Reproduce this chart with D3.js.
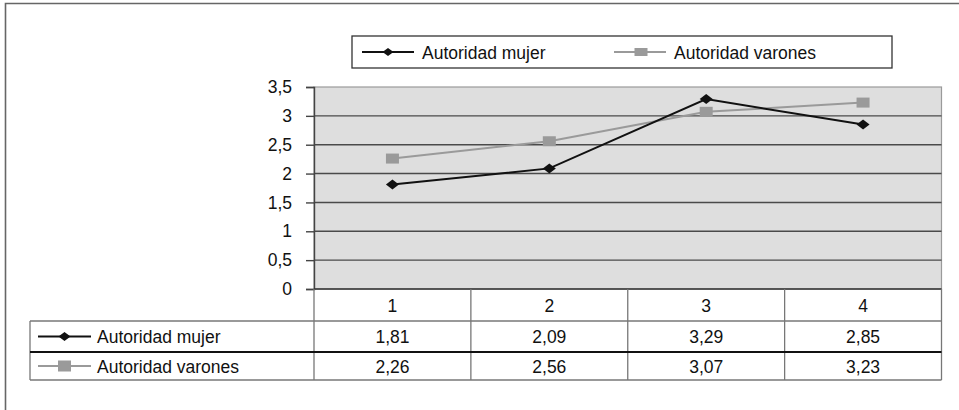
<!DOCTYPE html>
<html>
<head>
<meta charset="utf-8">
<script src="https://d3js.org/d3.v7.min.js"></script>
<style>
    body { margin: 0; background: #fff; }
    svg text { font-family: "Liberation Sans", Arial, sans-serif; font-size: 17.5px; fill: #111; }
</style>
</head>
<body>
<svg class="target" width="959" height="410"></svg>
<script>

    // data
    let categories = [1, 2, 3, 4];
    let seriesNames = ["Autoridad mujer", "Autoridad varones"];
    let mujer = [1.81, 2.09, 3.29, 2.85];
    let varones = [2.26, 2.56, 3.07, 3.23];
    let yTicks = [0, 0.5, 1, 1.5, 2, 2.5, 3, 3.5];

    let series = [
        {name: seriesNames[0], values: mujer, color: "#111", marker: "diamond"},
        {name: seriesNames[1], values: varones, color: "#9a9a9a", marker: "square"}
    ];

    let svg = d3.select(".target");
    let es = d3.formatLocale({decimal: ",", thousands: ".", grouping: [3], currency: ["", " €"]});
    let fmt = es.format(",.2f");
    let fmtTick = v => es.format("")(v);

    let plotLeft = 314, plotRight = 941.5, plotTop = 87, plotBottom = 289;

    let x = d3.scaleBand().domain(categories).range([plotLeft, plotRight]).padding(0);
    let y = d3.scaleLinear().domain([0, 3.5]).range([plotBottom, plotTop]);

    // outer frame
    svg.append("path")
        .attr("d", "M5.5,420 V3.5 H970")
        .attr("fill", "none").attr("stroke", "#666").attr("stroke-width", 1.6);

    // plot background
    svg.append("rect")
        .attr("x", plotLeft).attr("y", plotTop)
        .attr("width", plotRight - plotLeft).attr("height", plotBottom - plotTop)
        .attr("fill", "#dedede").attr("stroke", "#9a9a9a").attr("stroke-width", 1.2);

    // gridlines
    svg.append("g").selectAll("line")
        .data(yTicks.filter(d => d > 0 && d < 3.5))
        .enter().append("line")
        .attr("x1", plotLeft).attr("x2", plotRight)
        .attr("y1", d => y(d)).attr("y2", d => y(d))
        .attr("stroke", "#4a4a4a").attr("stroke-width", 1.4);

    // y axis
    let yAxis = svg.append("g")
        .attr("transform", "translate(" + plotLeft + ",0)")
        .call(d3.axisLeft(y).tickValues(yTicks).tickFormat(fmtTick).tickSize(8).tickPadding(14));
    yAxis.select(".domain").attr("stroke", "#444").attr("stroke-width", 1.4);
    yAxis.selectAll(".tick line").attr("stroke", "#444").attr("stroke-width", 1.4);
    yAxis.selectAll(".tick text")
        .style("font-family", "'Liberation Sans', Arial, sans-serif")
        .style("font-size", "17.5px").attr("fill", "#111");

    // zero line
    svg.append("line")
        .attr("x1", plotLeft).attr("x2", plotRight)
        .attr("y1", y(0)).attr("y2", y(0))
        .attr("stroke", "#333").attr("stroke-width", 1.6);

    // data table
    let tableLeft = 30;
    let rowTops = [y(0), 321, 352, 380];
    let t = svg.append("g").attr("class", "table");

    t.selectAll("line.v")
        .data(categories.map(c => x(c)).concat([plotRight]))
        .enter().append("line")
        .attr("x1", d => d).attr("x2", d => d)
        .attr("y1", rowTops[0]).attr("y2", rowTops[3])
        .attr("stroke", "#777").attr("stroke-width", 1.3);

    t.append("line").attr("x1", tableLeft).attr("x2", tableLeft)
        .attr("y1", rowTops[1]).attr("y2", rowTops[3])
        .attr("stroke", "#777").attr("stroke-width", 1.3);
    t.append("line").attr("x1", tableLeft).attr("x2", plotRight)
        .attr("y1", rowTops[1]).attr("y2", rowTops[1])
        .attr("stroke", "#777").attr("stroke-width", 1.3);
    t.append("line").attr("x1", tableLeft).attr("x2", plotRight)
        .attr("y1", rowTops[2]).attr("y2", rowTops[2])
        .attr("stroke", "#111").attr("stroke-width", 2);
    t.append("line").attr("x1", tableLeft).attr("x2", plotRight)
        .attr("y1", rowTops[3]).attr("y2", rowTops[3])
        .attr("stroke", "#777").attr("stroke-width", 1.3);

    // category labels
    t.selectAll("text.cat")
        .data(categories)
        .enter().append("text")
        .attr("x", d => x(d) + x.bandwidth() / 2)
        .attr("y", (rowTops[0] + rowTops[1]) / 2 + 6.5)
        .attr("text-anchor", "middle")
        .text(d => d);

    function marker(g, s, cx, cy, w, h) {
        if (s.marker === "diamond") {
            g.append("path")
                .attr("d", "M" + cx + "," + (cy - h / 2) + "L" + (cx + w / 2) + "," + cy + "L" + cx + "," + (cy + h / 2) + "L" + (cx - w / 2) + "," + cy + "Z")
                .attr("fill", s.color);
        } else {
            g.append("rect")
                .attr("x", cx - w / 2).attr("y", cy - h / 2)
                .attr("width", w).attr("height", h)
                .attr("fill", s.color);
        }
    }

    series.forEach((s, i) => {
        let cy = (rowTops[i + 1] + rowTops[i + 2]) / 2;
        t.append("line").attr("x1", 38).attr("x2", 91)
            .attr("y1", cy).attr("y2", cy)
            .attr("stroke", s.color).attr("stroke-width", 2);
        if (s.marker === "diamond") marker(t, s, 64.5, cy, 12, 9);
        else marker(t, s, 64.5, cy, 13, 11);
        t.append("text").attr("x", 97).attr("y", cy + 6.5).text(s.name);
        t.selectAll("text.v" + i)
            .data(s.values)
            .enter().append("text")
            .attr("x", (d, j) => x(categories[j]) + x.bandwidth() / 2)
            .attr("y", cy + 6.5)
            .attr("text-anchor", "middle")
            .text(d => fmt(d));
    });

    // lines
    let line = d3.line()
        .x((d, j) => x(categories[j]) + x.bandwidth() / 2)
        .y(d => y(d));

    series.slice().reverse().forEach(s => {
        svg.append("path")
            .datum(s.values)
            .attr("d", line)
            .attr("fill", "none")
            .attr("stroke", s.color)
            .attr("stroke-width", 2);
        let mg = svg.append("g");
        s.values.forEach((v, j) => {
            let cx = x(categories[j]) + x.bandwidth() / 2;
            if (s.marker === "diamond") marker(mg, s, cx, y(v), 13, 10);
            else marker(mg, s, cx, y(v), 13, 10);
        });
    });

    // legend
    let lg = svg.append("g");
    lg.append("rect")
        .attr("x", 352).attr("y", 36).attr("width", 540).attr("height", 32)
        .attr("fill", "#fff").attr("stroke", "#333").attr("stroke-width", 1.3);
    let legendPos = [{lx: 362, mx: 388, tx: 422}, {lx: 614, mx: 641, tx: 674}];
    series.forEach((s, i) => {
        let p = legendPos[i];
        lg.append("line").attr("x1", p.lx).attr("x2", p.lx + 52)
            .attr("y1", 52).attr("y2", 52)
            .attr("stroke", s.color).attr("stroke-width", 2);
        if (s.marker === "diamond") marker(lg, s, p.mx, 52, 11, 8);
        else marker(lg, s, p.mx, 52, 13, 8);
        lg.append("text").attr("x", p.tx).attr("y", 58.5).text(s.name);
    });

</script>
</body>
</html>
